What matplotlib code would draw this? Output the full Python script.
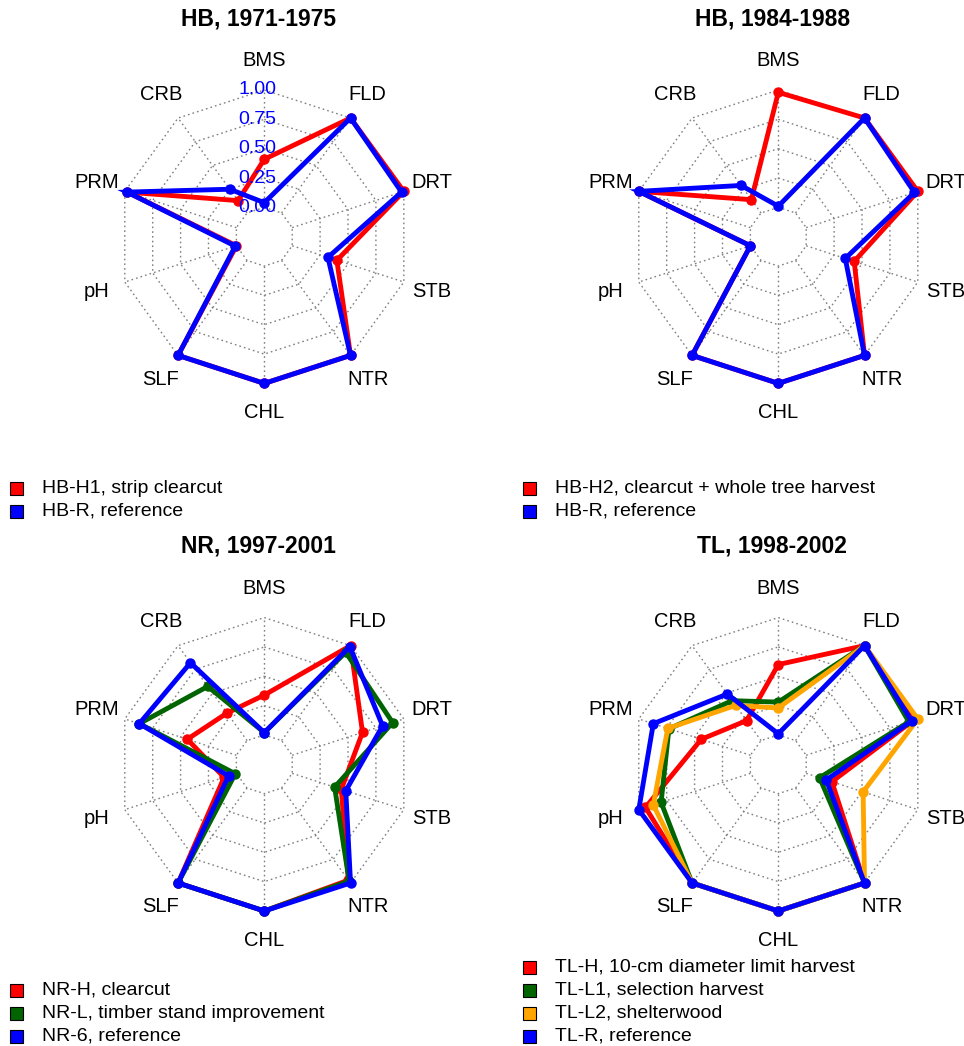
import numpy as np
import matplotlib
matplotlib.use("Agg")
import matplotlib.pyplot as plt
from matplotlib.patches import Rectangle

plt.rcParams['font.family'] = ['Liberation Sans', 'DejaVu Sans']

# Axis order, clockwise from the top
axes_labels = ["BMS", "FLD", "DRT", "STB", "NTR", "CHL", "SLF", "pH", "PRM", "CRB"]
ring_labels = ["0.00", "0.25", "0.50", "0.75", "1.00"]

# Hubbard Brook, 1971-1975
hb1_h1 = [0.41, 1.00, 1.00, 0.40, 1.00, 1.00, 1.00, 0.00, 0.98, 0.13]
hb1_r = [0.04, 1.00, 0.98, 0.32, 1.00, 1.00, 1.00, 0.01, 0.98, 0.25]

# Hubbard Brook, 1984-1988
hb2_h2 = [0.98, 1.00, 1.00, 0.43, 1.00, 1.00, 1.00, 0.00, 1.00, 0.14]
hb2_r = [0.01, 1.00, 0.97, 0.35, 1.00, 1.00, 1.00, 0.00, 1.00, 0.29]

# NR, 1997-2001
nr_h = [0.34, 1.00, 0.63, 0.44, 0.97, 1.00, 1.00, 0.11, 0.44, 0.29]
nr_l = [0.02, 0.93, 0.90, 0.38, 0.98, 1.00, 1.00, 0.01, 0.87, 0.57]
nr_6 = [0.02, 0.99, 0.81, 0.48, 1.00, 1.00, 1.00, 0.07, 0.87, 0.82]

# TL, 1998-2002
tl_h = [0.60, 1.00, 0.96, 0.23, 1.00, 1.00, 1.00, 0.94, 0.44, 0.21]
tl_l1 = [0.28, 1.00, 0.92, 0.12, 1.00, 1.00, 1.00, 0.80, 0.73, 0.42]
tl_l2 = [0.23, 1.00, 1.00, 0.51, 1.00, 1.00, 1.00, 0.87, 0.74, 0.37]
tl_r = [0.01, 1.00, 0.945, 0.18, 1.00, 1.00, 1.00, 1.00, 0.87, 0.49]

panels = [
    dict(title="HB, 1971-1975", center=(264.3, 236.7), show_rings=True,
         series=[hb1_h1, hb1_r], colors=["#FF0000", "#0000FF"],
         names=["HB-H1, strip clearcut", "HB-R, reference"],
         legend=(10, [488, 511])),
    dict(title="HB, 1984-1988", center=(778.3, 236.7), show_rings=False,
         series=[hb2_h2, hb2_r], colors=["#FF0000", "#0000FF"],
         names=["HB-H2, clearcut + whole tree harvest", "HB-R, reference"],
         legend=(523, [488, 511])),
    dict(title="NR, 1997-2001", center=(264.3, 764.3), show_rings=False,
         series=[nr_h, nr_l, nr_6], colors=["#FF0000", "#006400", "#0000FF"],
         names=["NR-H, clearcut", "NR-L, timber stand improvement",
                "NR-6, reference"],
         legend=(10, [990, 1013, 1036])),
    dict(title="TL, 1998-2002", center=(778.3, 764.3), show_rings=False,
         series=[tl_h, tl_l1, tl_l2, tl_r],
         colors=["#FF0000", "#006400", "#FFA500", "#0000FF"],
         names=["TL-H, 10-cm diameter limit harvest", "TL-L1, selection harvest",
                "TL-L2, shelterwood", "TL-R, reference"],
         legend=(523, [967, 990, 1013, 1036])),
]

W, H = 964, 1046
R = 146.7          # outer radius in pixels
S = 1.75           # half-size of each panel axes, in radius units
n = len(axes_labels)
theta = np.arange(n) * 2 * np.pi / n
sx, sy = np.sin(theta), np.cos(theta)
nseg = 4


def radius(v):
    # value 0 sits on the inner ring, leaving an empty centre
    return (1 + nseg * np.asarray(v, dtype=float)) / (nseg + 1)


fig = plt.figure(figsize=(W / 100, H / 100), dpi=100)
fig.patch.set_facecolor("white")


def fx(x):
    return x / W


def fy(y):
    return 1 - y / H


for p in panels:
    cx, cy = p["center"]
    ax = fig.add_axes([fx(cx - S * R), fy(cy + S * R), 2 * S * R / W, 2 * S * R / H])
    ax.set_xlim(-S, S)
    ax.set_ylim(-S, S)
    ax.set_aspect("equal")
    ax.axis("off")

    # polygon grid
    for i in range(nseg + 1):
        r = (i + 1) / (nseg + 1)
        ax.plot(np.append(sx, sx[0]) * r, np.append(sy, sy[0]) * r,
                color="#808080", lw=1.0, ls=(0, (1.2, 2.2)), zorder=1,
                clip_on=False)
    r0 = 1 / (nseg + 1)
    for k in range(n):
        ax.plot([sx[k] * r0, sx[k]], [sy[k] * r0, sy[k]], color="#808080",
                lw=1.0, ls=(0, (1.2, 2.2)), zorder=1, clip_on=False)

    # ring value labels
    if p["show_rings"]:
        for i, lab in enumerate(ring_labels):
            ax.text(-0.045, (i + 1) / (nseg + 1), lab, color="#0000FF",
                    fontsize=14, ha="center", va="center", zorder=5)

    # axis labels
    for k, lab in enumerate(axes_labels):
        ax.text(sx[k] * 1.2, sy[k] * 1.2, lab, fontsize=14.5, ha="center",
                va="center", clip_on=False)

    # data series
    for vals, col in zip(p["series"], p["colors"]):
        r = radius(vals)
        xs, ys = sx * r, sy * r
        ax.plot(np.append(xs, xs[0]), np.append(ys, ys[0]), color=col,
                lw=3.5, solid_joinstyle="miter", zorder=3, clip_on=False)
        ax.plot(xs, ys, "o", color=col, ms=6.5, zorder=3, clip_on=False)

    # title
    fig.text(fx(cx - 6), fy(cy - 218), p["title"], fontsize=16.5,
             fontweight="bold", ha="center", va="center")

    # legend
    lx, rows = p["legend"]
    for yrow, col, name in zip(rows, p["colors"], p["names"]):
        fig.patches.append(Rectangle((fx(lx), fy(yrow + 6.5)), 13 / W, 13 / H,
                                     transform=fig.transFigure,
                                     facecolor=col, edgecolor="black",
                                     lw=0.8))
        fig.text(fx(lx + 32), fy(yrow), name, fontsize=14, ha="left",
                 va="center")

fig.savefig("out.png", dpi=100, facecolor="white")
